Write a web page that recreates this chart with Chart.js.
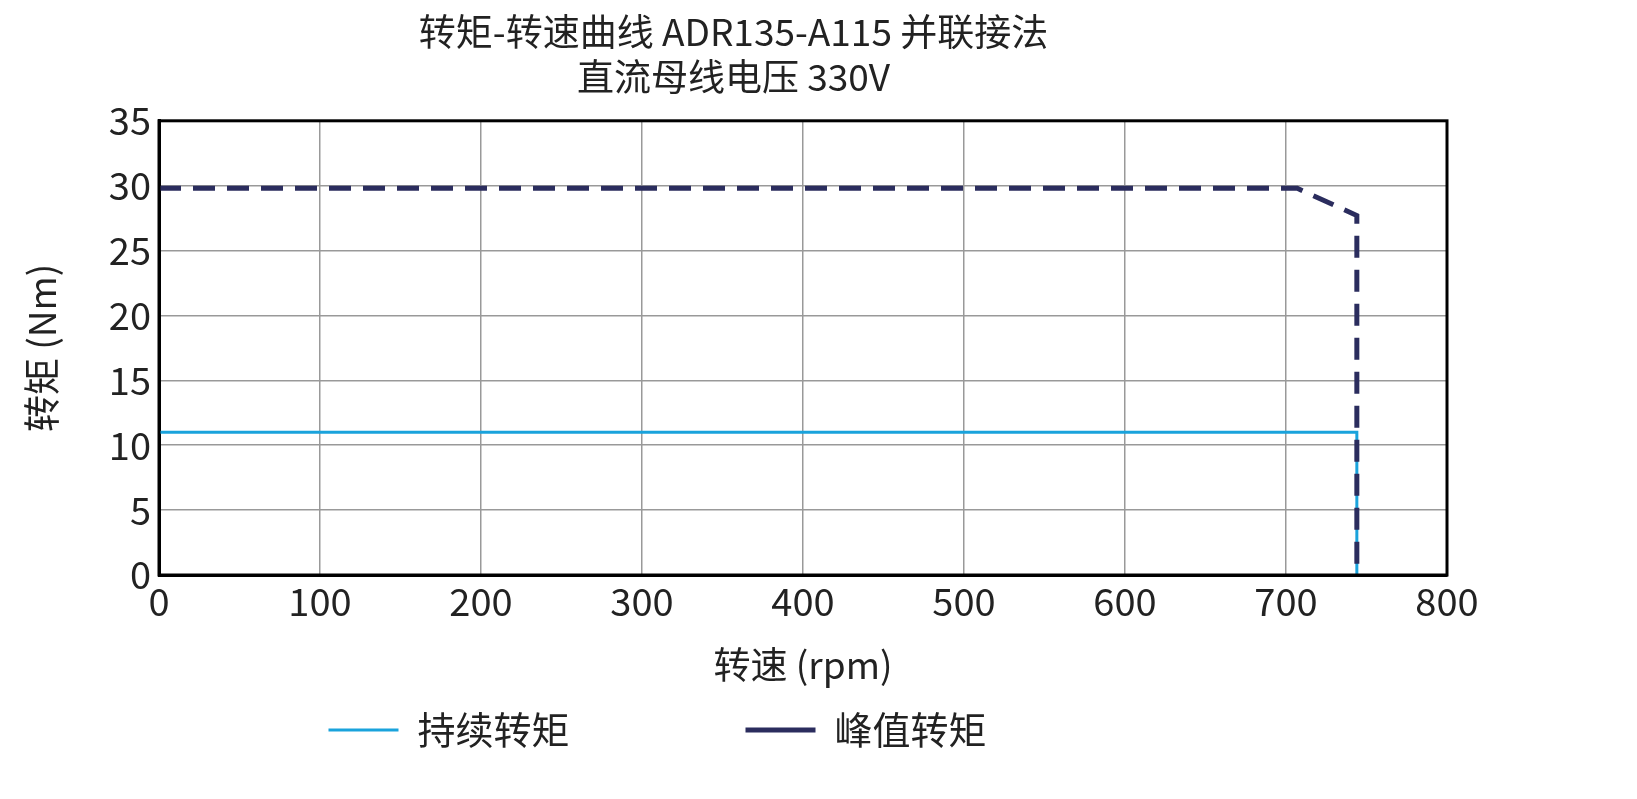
<!DOCTYPE html>
<html><head><meta charset="utf-8">
<script src="https://cdn.jsdelivr.net/npm/chart.js@4"></script>
<style>html,body{margin:0;background:#fff}#w{width:1637px;height:799px}</style>
</head><body><div id="w"><canvas id="c"></canvas></div>
<script>
const contSpeed=[0,744,744];
const contTorque=[11,11,0];
const peakSpeed=[0,707,744,744];
const peakTorque=[29.8,29.8,27.7,0];
const xTicks=[0,100,200,300,400,500,600,700,800];
const yTicks=[0,5,10,15,20,25,30,35];
const F="'Noto Sans CJK SC','Noto Sans',sans-serif";
const pts=(xs,ys)=>xs.map((x,i)=>({x,y:ys[i]}));
Chart.defaults.font.family=F;Chart.defaults.color='#222';
new Chart(document.getElementById('c'),{type:'scatter',
data:{datasets:[
{label:'持续转矩',data:pts(contSpeed,contTorque),showLine:true,borderColor:'#1aa3dc',backgroundColor:'#1aa3dc',borderWidth:3,pointRadius:0,order:2},
{label:'峰值转矩',data:pts(peakSpeed,peakTorque),showLine:true,borderColor:'#2b2d5e',backgroundColor:'#2b2d5e',borderWidth:5,borderDash:[22,12],pointRadius:0,order:1}
]},
options:{responsive:true,maintainAspectRatio:false,animation:false,
layout:{padding:{left:20,right:190,top:0,bottom:40}},
plugins:{title:{display:true,text:['转矩-转速曲线 ADR135-A115 并联接法','直流母线电压 330V'],font:{size:37,weight:'normal'},lineHeight:2,padding:{top:10,bottom:22}},
legend:{position:'bottom',labels:{font:{size:38},boxWidth:70,boxHeight:0,padding:24,
generateLabels:(ch)=>ch.data.datasets.map((d,i)=>({text:d.label+'\u3000\u3000\u3000\u3000',strokeStyle:d.borderColor,fillStyle:d.borderColor,lineWidth:d.borderWidth,lineDash:d.borderDash||[],datasetIndex:i,fontColor:'#222'}))}}},
scales:{
x:{type:'linear',min:0,max:800,afterBuildTicks:s=>{s.ticks=xTicks.map(v=>({value:v}))},afterFit:s=>{s.height=112},
ticks:{font:{size:38},padding:4},grid:{color:'#999',lineWidth:1.5,drawTicks:false},border:{color:'#000',width:3},
title:{display:true,text:'转速 (rpm)',font:{size:37},padding:0}},
y:{min:0,max:35,afterBuildTicks:s=>{s.ticks=yTicks.map(v=>({value:v}))},afterFit:s=>{s.width=139},
ticks:{font:{size:38},padding:8},grid:{color:'#999',lineWidth:1.5,drawTicks:false},border:{color:'#000',width:3},
title:{display:true,text:'转矩 (Nm)',font:{size:37},padding:0}}
}},
plugins:[{id:'frame',afterDraw(ch){const a=ch.chartArea,c=ch.ctx;c.save();c.strokeStyle='#000';c.lineWidth=3;c.strokeRect(a.left,a.top,a.right-a.left,a.bottom-a.top);c.restore();}}]
});
</script></body></html>
